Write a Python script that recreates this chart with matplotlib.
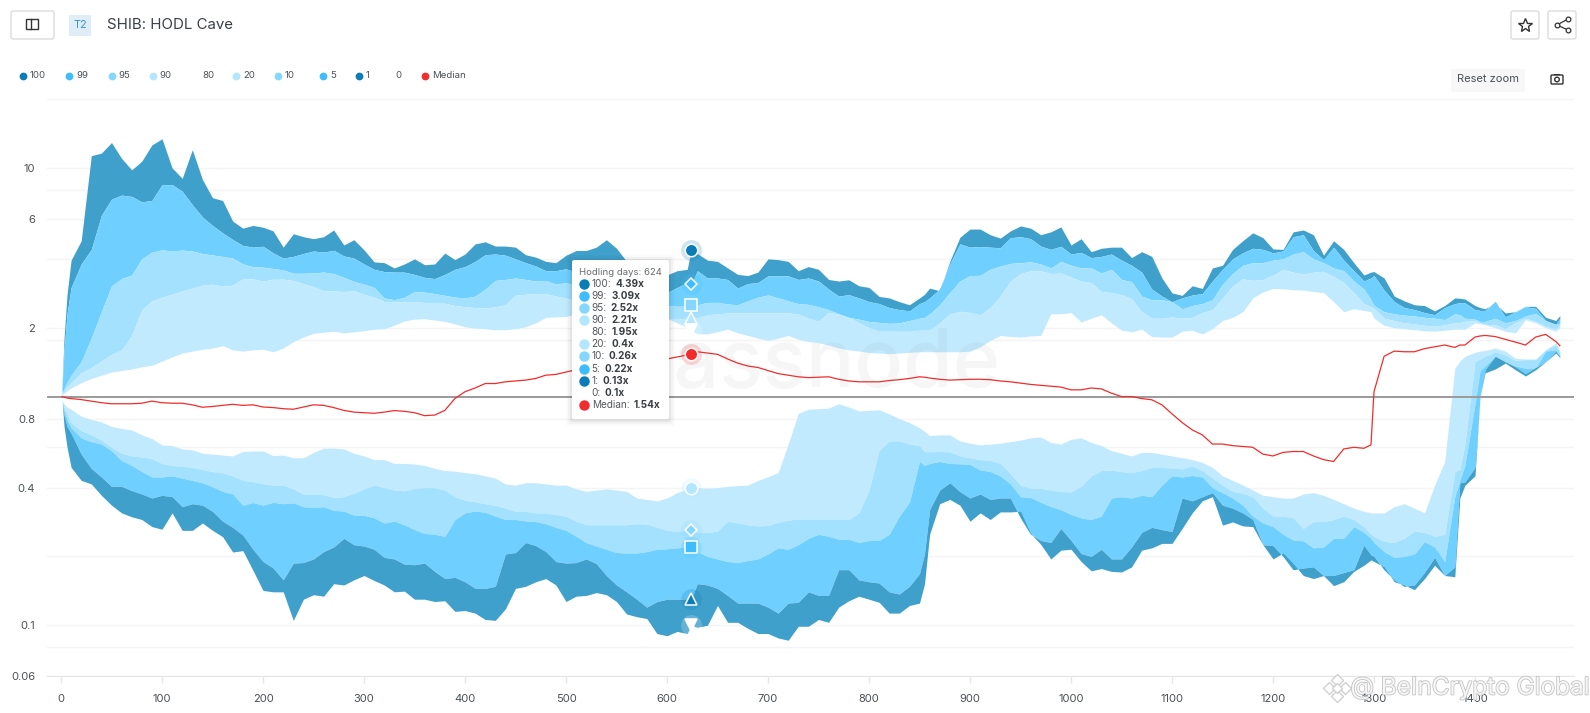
#!/usr/bin/env python3
"""SHIB: HODL Cave, redrawn as a static figure."""
import matplotlib
matplotlib.use("Agg")
import matplotlib.pyplot as plt
import matplotlib.patheffects as pe
from matplotlib.patches import Circle, FancyBboxPatch, Rectangle
from matplotlib.ticker import NullFormatter

plt.rcParams["font.family"] = ["Inter", "DejaVu Sans"]

days = [1, 3, 6, 10, 20, 30, 40, 50, 60, 70, 80, 90,
        100, 110, 120, 130, 140, 150, 160, 170, 180, 190,
        200, 210, 220, 230, 240, 250, 260, 270, 280, 290,
        300, 310, 320, 330, 340, 350, 360, 370, 380, 390,
        400, 410, 420, 430, 440, 450, 460, 470, 480, 490,
        500, 510, 520, 530, 540, 550, 560, 570, 580, 590,
        600, 610, 620, 624, 630, 640, 650, 660, 670, 680, 690,
        700, 710, 720, 730, 740, 750, 760, 770, 780, 790,
        800, 810, 820, 830, 840, 850, 855, 860, 870, 880, 890,
        900, 910, 920, 930, 940, 950, 960, 970, 980, 990,
        1000, 1010, 1020, 1030, 1040, 1050, 1060, 1070, 1080, 1090,
        1100, 1110, 1120, 1130, 1140, 1150, 1160, 1170, 1180, 1190,
        1200, 1210, 1220, 1230, 1240, 1250, 1260, 1270, 1280, 1290, 1297,
        1300, 1310, 1320, 1330, 1340, 1350, 1360, 1370, 1380, 1385, 1390,
        1400, 1405, 1410, 1420, 1430, 1440, 1450, 1460, 1470, 1480, 1484]

p100 = [1.1, 1.8, 2.8, 3.95, 4.8, 11.3, 11.6, 12.9, 11, 9.8, 10.7, 12.6,
        13.4, 10, 9, 12, 8.9, 7.4, 7.2, 5.85, 5.45, 5.6,
        5.5, 5.3, 4.5, 5.15, 5.0, 4.9, 5.0, 5.35, 4.6, 4.85,
        4.38, 3.88, 3.85, 3.65, 3.8, 4.0, 3.77, 3.8, 4.24, 3.97,
        4.2, 4.65, 4.75, 4.55, 4.55, 4.5, 4.17, 4.07, 3.9, 3.85,
        4.15, 4.35, 4.35, 4.5, 4.85, 4.45, 3.9, 3.7, 3.5, 3.4,
        3.4, 3.55, 3.6, 4.39, 4.22, 3.95, 3.9, 3.65, 3.42, 3.38, 3.5,
        4.0, 3.97, 3.9, 3.55, 3.7, 3.6, 3.25, 3.2, 3.24, 3.05,
        3.0, 2.74, 2.7, 2.6, 2.52, 2.7, 2.8, 2.98, 2.9, 3.9, 4.97,
        5.4, 5.4, 5.1, 4.93, 5.3, 5.57, 5.45, 5.1, 5.25, 5.52,
        4.6, 4.9, 4.3, 4.45, 4.5, 4.5, 4.05, 4.3, 4.1, 3.3,
        2.84, 2.77, 3.05, 2.97, 3.65, 3.75, 4.4, 4.8, 5.2, 4.95,
        4.42, 4.4, 5.25, 5.35, 5.1, 4.15, 4.8, 4.4, 3.85, 3.4, 3.5,
        3.52, 3.3, 2.75, 2.62, 2.52, 2.5, 2.37, 2.5, 2.7, 2.69, 2.67,
        2.5, 2.45, 2.42, 2.55, 2.32, 2.35, 2.48, 2.48, 2.22, 2.15, 2.26]

p99 = [1.08, 1.6, 2.3, 3.0, 3.8, 4.4, 6.2, 7.3, 7.6, 7.5, 7.1, 7.2,
       8.45, 8.45, 7.9, 6.9, 6.1, 5.6, 5.2, 4.86, 4.58, 4.5,
       4.54, 4.25, 4.03, 4.1, 4.22, 4.33, 4.28, 4.36, 4.12, 4.03,
       3.8, 3.6, 3.52, 3.5, 3.5, 3.42, 3.32, 3.28, 3.42, 3.6,
       3.7, 3.9, 4.17, 4.2, 4.15, 4.0, 3.85, 3.72, 3.55, 3.55,
       3.62, 3.5, 3.4, 3.3, 3.2, 3.1, 3.05, 3.0, 2.95, 2.9,
       2.85, 3.0, 3.15, 3.09, 3.55, 3.3, 3.3, 3.25, 2.98, 3.12, 3.15,
       3.37, 3.37, 3.37, 3.25, 3.3, 3.2, 2.95, 2.75, 2.79, 2.7,
       2.6, 2.55, 2.45, 2.4, 2.37, 2.55, 2.6, 2.7, 2.95, 3.8, 4.65,
       4.5, 4.53, 4.5, 4.47, 4.95, 5.0, 4.9, 4.55, 4.4, 4.54,
       4.2, 4.27, 4.05, 4.1, 4.2, 3.95, 3.75, 3.5, 2.95, 2.75,
       2.6, 2.7, 2.78, 2.82, 3.2, 3.6, 4.0, 4.25, 4.45, 4.4,
       4.25, 4.33, 5.0, 5.1, 4.35, 3.97, 4.5, 3.95, 3.55, 3.2, 3.3,
       3.38, 2.92, 2.6, 2.45, 2.4, 2.33, 2.28, 2.45, 2.55, 2.57, 2.57,
       2.4, 2.38, 2.38, 2.6, 2.23, 2.35, 2.47, 2.43, 2.15, 2.07, 2.2]

p95 = [1.03, 1.08, 1.15, 1.24, 1.42, 1.8, 2.35, 3.05, 3.28, 3.4, 4.0, 4.28,
       4.38, 4.33, 4.37, 4.33, 4.22, 4.16, 4.1, 4.03, 3.8, 3.7,
       3.68, 3.63, 3.58, 3.46, 3.46, 3.47, 3.5, 3.45, 3.32, 3.19,
       3.1, 3.0, 2.7, 2.65, 2.72, 2.88, 2.86, 2.82, 2.77, 2.72,
       2.7, 2.75, 2.95, 3.22, 3.25, 3.3, 3.25, 3.2, 3.22, 3.1,
       3.15, 3.05, 2.95, 2.88, 2.82, 2.75, 2.7, 2.65, 2.6, 2.55,
       2.5, 2.48, 2.5, 2.52, 2.52, 2.58, 2.58, 2.54, 2.52, 2.62, 2.72,
       2.78, 2.7, 2.62, 2.55, 2.53, 2.47, 2.4, 2.3, 2.22, 2.18,
       2.13, 2.11, 2.09, 2.1, 2.15, 2.2, 2.22, 2.3, 2.52, 2.85, 3.2,
       3.38, 3.39, 3.6, 3.72, 3.82, 3.85, 3.88, 3.8, 3.65, 3.9,
       3.75, 3.65, 3.65, 3.47, 3.6, 3.25, 3.18, 2.75, 2.65, 2.65,
       2.6, 2.42, 2.5, 2.55, 2.65, 3.1, 3.45, 3.75, 3.85, 3.85,
       3.95, 4.0, 4.2, 4.3, 4.0, 3.85, 3.65, 3.55, 3.2, 2.95, 2.65,
       2.5, 2.35, 2.3, 2.27, 2.25, 2.22, 2.2, 2.17, 2.3, 2.28, 2.2,
       2.18, 2.13, 2.13, 2.2, 2.1, 2.15, 2.25, 2.31, 2.15, 2.07, 2.08]

p90 = [1.02, 1.05, 1.1, 1.15, 1.27, 1.34, 1.43, 1.53, 1.6, 1.85, 2.4, 2.62,
       2.72, 2.8, 2.9, 2.98, 3.07, 3.1, 3.04, 3.07, 3.27, 3.27,
       3.2, 3.26, 3.26, 3.22, 3.12, 3.03, 2.9, 2.9, 2.88, 2.9,
       2.8, 2.72, 2.6, 2.6, 2.6, 2.6, 2.58, 2.56, 2.56, 2.5,
       2.47, 2.45, 2.44, 2.47, 2.52, 2.78, 2.8, 2.82, 2.82, 2.75,
       2.7, 2.6, 2.5, 2.45, 2.4, 2.35, 2.3, 2.25, 2.22, 2.2,
       2.18, 2.18, 2.2, 2.21, 2.21, 2.28, 2.3, 2.32, 2.32, 2.32, 2.32,
       2.32, 2.32, 2.32, 2.3, 2.2, 2.14, 2.33, 2.3, 2.22, 2.1,
       2.0, 1.93, 1.93, 1.93, 1.93, 1.95, 1.95, 1.95, 2.1, 2.3, 2.36,
       2.33, 2.28, 2.45, 2.75, 3.2, 3.45, 3.55, 3.55, 3.45, 3.47,
       3.33, 3.2, 3.15, 2.88, 2.85, 2.79, 2.68, 2.35, 2.2, 2.2,
       2.23, 2.2, 2.22, 2.33, 2.4, 2.7, 3.05, 3.27, 3.22, 3.25,
       3.4, 3.6, 3.5, 3.43, 3.5, 3.53, 3.35, 3.15, 2.85, 2.55, 2.47,
       2.43, 2.2, 2.15, 2.1, 2.08, 2.05, 2.03, 2.06, 2.1, 2.11, 2.13,
       2.15, 2.1, 2.07, 2.06, 1.98, 2.1, 2.2, 2.13, 2.03, 1.97, 2.06]

p80 = [1.01, 1.03, 1.06, 1.09, 1.15, 1.2, 1.24, 1.28, 1.3, 1.32, 1.35, 1.37,
       1.43, 1.49, 1.55, 1.58, 1.61, 1.63, 1.67, 1.6, 1.58, 1.6,
       1.61, 1.57, 1.63, 1.74, 1.82, 1.89, 1.91, 1.93, 1.9, 1.92,
       1.94, 1.97, 1.98, 2.05, 2.14, 2.18, 2.19, 2.16, 2.13, 2.08,
       2.02, 1.99, 1.98, 1.96, 1.96, 1.98, 2.02, 2.1, 2.22, 2.23,
       2.24, 2.3, 2.3, 2.3, 2.28, 2.25, 2.2, 2.2, 2.2, 2.2,
       2.2, 2.1, 2.0, 1.95, 1.88, 1.88, 1.92, 1.97, 1.9, 1.85, 1.8,
       1.76, 1.8, 1.85, 1.78, 1.74, 1.72, 1.68, 1.63, 1.6, 1.58,
       1.56, 1.55, 1.54, 1.55, 1.56, 1.57, 1.57, 1.57, 1.57, 1.57, 1.57,
       1.58, 1.65, 1.76, 1.85, 1.83, 1.82, 1.84, 1.85, 2.3, 2.3,
       2.33, 2.12, 2.2, 2.28, 2.1, 1.95, 1.92, 1.97, 1.83, 1.82,
       1.82, 1.93, 1.95, 1.88, 1.98, 2.15, 2.22, 2.35, 2.7, 2.87,
       2.97, 2.96, 2.93, 2.92, 2.88, 2.85, 2.6, 2.35, 2.42, 2.38, 2.35,
       2.2, 2.05, 2.0, 1.98, 1.96, 1.94, 1.93, 1.95, 1.97, 1.97, 1.97,
       2.1, 2.08, 2.06, 2.0, 1.93, 1.9, 2.17, 2.1, 2.0, 1.93, 2.0]

p20 = [.96, .93, .9, .88, .82, .795, .775, .74, .725, .715, .68, .655,
       .614, .61, .59, .585, .565, .56, .555, .55, .575, .578,
       .578, .552, .555, .54, .54, .57, .595, .595, .59, .565,
       .55, .53, .53, .51, .51, .507, .5, .485, .475, .472,
       .465, .46, .45, .44, .415, .41, .42, .42, .415, .41,
       .41, .395, .385, .39, .395, .39, .385, .36, .355, .35,
       .36, .38, .395, .4, .4, .397, .4, .405, .408, .41, .43,
       .446, .465, .62, .845, .88, .885, .89, .93, .9, .865,
       .87, .875, .84, .8, .77, .73, .705, .675, .68, .68, .64,
       .625, .615, .62, .625, .635, .645, .66, .665, .63, .62,
       .65, .66, .63, .61, .58, .565, .55, .57, .57, .56,
       .55, .54, .53, .515, .49, .45, .43, .41, .39, .37,
       .365, .36, .36, .375, .38, .37, .355, .34, .325, .315, .31,
       .31, .31, .33, .34, .325, .31, .41, .52, 1.33, 1.43, 1.5,
       1.56, 1.58, 1.59, 1.63, 1.58, 1.47, 1.46, 1.46, 1.6, 1.72, 1.58]

p10 = [.96, .9, .84, .77, .71, .68, .645, .6, .565, .55, .545, .535,
       .51, .5, .495, .49, .48, .47, .465, .45, .43, .425,
       .415, .41, .41, .395, .375, .374, .372, .362, .365, .378,
       .395, .41, .4, .39, .387, .397, .4, .4, .39, .365,
       .352, .347, .34, .335, .325, .315, .315, .31, .31, .305,
       .3, .285, .275, .275, .275, .275, .275, .278, .277, .268,
       .26, .258, .26, .26, .255, .255, .258, .285, .28, .275, .272,
       .273, .282, .288, .292, .29, .29, .29, .29, .29, .31,
       .39, .58, .64, .64, .62, .61, .574, .574, .575, .574, .55,
       .54, .53, .527, .51, .46, .41, .398, .397, .39, .385,
       .383, .406, .45, .475, .477, .47, .465, .475, .49, .49,
       .487, .483, .497, .475, .44, .41, .385, .378, .365, .325,
       .3, .3, .295, .265, .284, .284, .29, .3, .29, .27, .25,
       .245, .233, .23, .24, .258, .255, .245, .25, .47, .48, .62,
       1.42, 1.46, 1.5, 1.57, 1.52, 1.44, 1.45, 1.45, 1.6, 1.68, 1.56]

p5 = [.96, .87, .79, .73, .66, .635, .62, .58, .525, .5, .47, .445,
      .445, .45, .44, .43, .42, .403, .385, .375, .335, .344,
      .335, .345, .34, .343, .33, .327, .33, .318, .316, .303,
      .303, .295, .28, .285, .275, .262, .252, .25, .245, .29,
      .31, .316, .312, .3, .29, .29, .286, .284, .278, .268,
      .26, .245, .23, .222, .215, .208, .207, .207, .21, .215,
      .216, .218, .22, .22, .21, .2, .195, .19, .188, .192, .195,
      .205, .218, .215, .225, .24, .25, .245, .238, .238, .23,
      .235, .235, .25, .3, .345, .52, .5, .51, .52, .51, .508,
      .505, .478, .47, .45, .415, .365, .362, .345, .33, .32,
      .305, .295, .29, .3, .36, .365, .36, .37, .365, .41,
      .45, .445, .452, .445, .4, .38, .36, .335, .3, .28,
      .27, .25, .236, .234, .218, .22, .24, .24, .27, .255, .24,
      .23, .21, .198, .2, .205, .232, .22, .19, .365, .43, .5,
      .93, 1.3, 1.36, 1.5, 1.42, 1.36, 1.33, 1.33, 1.58, 1.6, 1.51]

p1 = [.96, .83, .74, .69, .56, .485, .445, .405, .405, .388, .375, .36,
      .37, .365, .33, .34, .335, .315, .285, .268, .248, .215,
      .19, .178, .158, .187, .188, .195, .21, .22, .24, .225,
      .222, .215, .198, .195, .185, .184, .187, .172, .16, .162,
      .155, .145, .145, .148, .205, .208, .23, .223, .21, .19,
      .187, .188, .195, .186, .165, .15, .14, .13, .12, .127,
      .13, .13, .13, .13, .152, .15, .145, .135, .125, .125, .125,
      .12, .113, .125, .126, .14, .135, .135, .175, .175, .158,
      .155, .153, .14, .137, .148, .168, .206, .32, .39, .42, .384,
      .36, .375, .355, .36, .36, .295, .25, .235, .23, .265,
      .235, .206, .2, .215, .195, .195, .22, .255, .268, .262,
      .257, .36, .35, .365, .38, .335, .325, .31, .29, .225,
      .223, .2, .175, .178, .18, .165, .165, .17, .175, .224, .203,
      .2, .175, .158, .148, .15, .17, .198, .165, .18, .42, .423,
      .49, 1.0, 1.31, 1.5, 1.42, 1.35, 1.26, 1.34, 1.42, 1.58, 1.5]

p0 = [.97, .74, .6, .49, .43, .415, .37, .335, .31, .298, .29, .27,
      .263, .31, .26, .26, .28, .26, .244, .209, .212, .174,
      .142, .14, .14, .105, .13, .136, .134, .152, .15, .158,
      .165, .157, .15, .14, .141, .13, .13, .127, .128, .115,
      .116, .113, .106, .105, .118, .145, .148, .155, .16, .15,
      .127, .134, .135, .139, .136, .127, .112, .109, .107, .092,
      .09, .094, .092, .1, .098, .1, .122, .103, .103, .097, .092,
      .092, .088, .086, .099, .099, .106, .103, .12, .128, .134,
      .13, .126, .113, .113, .122, .125, .152, .25, .34, .355, .335,
      .285, .31, .29, .313, .313, .315, .252, .226, .195, .213,
      .215, .19, .173, .177, .172, .171, .18, .213, .218, .228,
      .228, .265, .31, .35, .365, .274, .283, .272, .27, .225,
      .195, .207, .186, .165, .16, .165, .149, .155, .172, .183, .193,
      .19, .18, .155, .15, .143, .16, .183, .165, .163, .36, .41,
      .45, 1.0, 1.27, 1.32, 1.4, 1.31, 1.23, 1.31, 1.42, 1.55, 1.48]

median = [1, .995, .985, .98, .97, .955, .94, .93, .93, .93, .935, .955,
          .94, .935, .935, .92, .898, .905, .915, .925, .915, .92,
          .9, .895, .885, .88, .9, .92, .915, .895, .87, .855,
          .85, .845, .855, .868, .862, .85, .825, .83, .87, .98,
          1.05, 1.09, 1.14, 1.14, 1.16, 1.17, 1.18, 1.2, 1.24, 1.25,
          1.28, 1.31, 1.33, 1.35, 1.37, 1.39, 1.41, 1.43, 1.44, 1.45,
          1.46, 1.49, 1.52, 1.54, 1.57, 1.55, 1.53, 1.46, 1.4, 1.36, 1.34,
          1.3, 1.26, 1.24, 1.22, 1.21, 1.215, 1.22, 1.19, 1.17, 1.16,
          1.16, 1.16, 1.175, 1.185, 1.2, 1.22, 1.215, 1.205, 1.19, 1.18, 1.185,
          1.19, 1.19, 1.185, 1.17, 1.16, 1.145, 1.13, 1.12, 1.11, 1.1,
          1.07, 1.07, 1.09, 1.08, 1.035, 1.0, 1.0, .98, .968, .92,
          .84, .77, .715, .68, .62, .62, .61, .605, .6, .56,
          .55, .57, .575, .575, .55, .53, .52, .59, .6, .594, .615,
          1.05, 1.5, 1.58, 1.57, 1.57, 1.62, 1.65, 1.68, 1.64, 1.68, 1.68,
          1.82, 1.84, 1.85, 1.83, 1.78, 1.73, 1.68, 1.82, 1.87, 1.74, 1.67]

x_ticks = [0, 100, 200, 300, 400, 500, 600, 700, 800, 900, 1000, 1100, 1200, 1300, 1400]
y_ticks = [0.06, 0.1, 0.4, 0.8, 2, 6, 10]
y_tick_labels = ["0.06", "0.1", "0.4", "0.8", "2", "6", "10"]
y_grid_only = [0.08, 0.2, 0.6, 1.77, 4, 8, 20]

legend_names = ["100", "99", "95", "90", "80", "20", "10", "5", "1", "0", "Median"]
tooltip_values = ["4.39x", "3.09x", "2.52x", "2.21x", "1.95x", "0.4x", "0.26x",
                  "0.22x", "0.13x", "0.1x", "1.54x"]
hover_day = 624
hover_values = [4.39, 3.09, 2.52, 2.21, 1.95, 0.4, 0.26, 0.22, 0.13, 0.1, 1.54]

C_DARK, C_BLUE, C_MID, C_PALE = "#40a0cc", "#6fd0ff", "#a3e1ff", "#c1eaff"
C_100, C_99, C_95, C_90 = "#0a7db8", "#3dbdfd", "#85d7ff", "#b3e6ff"
C_RED = "#f22c2c"
C_TEXT = "#4a5056"

fig = plt.figure(figsize=(15.9, 7.13), dpi=100)
L, R, T, B = 47, 1574, 99, 676
ax = fig.add_axes([L / 1590, (713 - B) / 713, (R - L) / 1590, (B - T) / 713])

# bands, outermost to innermost
for lo, hi, col in [(p99, p100, C_DARK), (p95, p99, C_BLUE), (p90, p95, C_MID), (p80, p90, C_PALE),
                    (p10, p20, C_PALE), (p5, p10, C_MID), (p1, p5, C_BLUE), (p0, p1, C_DARK)]:
    ax.fill_between(days, lo, hi, color=col, lw=0, zorder=2)
ax.axhline(1, color="#9a9a9a", lw=1.4, zorder=3)
ax.plot(days, median, color=C_RED, lw=0.9, zorder=4)

ax.set_yscale("log")
ax.set_xlim((L - 61) / 1.01, (R - 61) / 1.01)
ax.set_ylim(0.06, 20)
ax.set_xticks(x_ticks)
ax.set_yticks(y_ticks, labels=y_tick_labels)
ax.set_yticks(y_grid_only, minor=True)
ax.yaxis.set_minor_formatter(NullFormatter())
ax.grid(axis="y", which="both", color="#f4f4f4", lw=1, zorder=1)
ax.tick_params(axis="y", which="both", length=0, pad=8.6, labelsize=8, labelcolor=C_TEXT)
ax.tick_params(axis="x", length=5, color="#e6e6e6", width=1, pad=8, labelsize=8, labelcolor=C_TEXT)
for side in ["top", "left", "right"]:
    ax.spines[side].set_visible(False)
ax.spines["bottom"].set_color("#e6e6e6")

# hover markers at day 624
markers = ["o", "D", "s", "^", "v", "o", "D", "s", "^", "v", "o"]
marker_cols = [C_100, C_99, C_95, C_90, "white", C_90, C_95, C_99, C_100, "white", C_RED]
marker_size = [9, 6.5, 9, 9, 9, 9, 6.5, 9, 9, 9, 9]
for v, m, col, ms in zip(hover_values, markers, marker_cols, marker_size):
    ax.plot(hover_day, v, "o", ms=15, color=col, alpha=0.2, mew=0, zorder=5)
    ax.plot(hover_day, v, m, ms=ms, mfc=col, mec="white", mew=1.1, zorder=6)

# transform=None means figure pixels, measured from the bottom
ax.text(1000, 713 - 387, "glassnode", transform=None, ha="right", va="baseline", fontsize=58,
        color="#808080", alpha=0.07, fontweight="medium", zorder=7)

# page furniture is laid out in pixel coordinates on an overlay
ov = fig.add_axes([0, 0, 1, 1], xlim=(0, 1590), ylim=(713, 0), zorder=5)
ov.axis("off")
ov.patch.set_alpha(0)
renderer = fig.canvas.get_renderer()


def button(x0, y0, x1, y1):
    ov.add_patch(FancyBboxPatch((x0 + 1, y0 + 1), x1 - x0 - 2, y1 - y0 - 2, boxstyle="round,pad=0,rounding_size=2",
                                fc="white", ec="#dcdcdc", lw=1))


button(10, 10, 55, 40)
ov.add_patch(Rectangle((26, 19), 12, 10, fc="none", ec="#333333", lw=1))
ov.plot([30.5, 30.5], [19, 29], color="#333333", lw=1)
ov.add_patch(Rectangle((69, 15), 22, 21, fc="#deedf8", ec="none"))
ov.text(80, 25.5, "T2", ha="center", va="center", fontsize=7.8, color="#3d94c9")
ov.text(107, 25, "SHIB: HODL Cave", ha="left", va="center", fontsize=10.8, color="#3a4047")

button(1510, 10, 1540, 40)
ov.plot(1525, 24.5, "*", ms=10.5, mfc="white", mec="#333333", mew=1)
button(1547, 10, 1577, 40)
for px, py in [(1568, 19), (1557, 25), (1568, 30)]:
    ov.plot([1557, px], [25, py], color="#333333", lw=0.9)
for px, py in [(1568, 19), (1557, 25), (1568, 30)]:
    ov.plot(px, py, "o", ms=3.4, mfc="white", mec="#333333", mew=0.9)

# legend row
legend_dots = [C_100, C_99, C_95, C_90, None, C_90, C_95, C_99, C_100, None, C_RED]
dot_x = [23, 69, 112, 153, None, 236, 278, 323, 359, None, 425]
text_x = [30, 76, 118, 159, 202, 243, 285, 330, 366, 395, 432]
for name, col, dx, tx in zip(legend_names, legend_dots, dot_x, text_x):
    if col:
        ov.plot(dx, 75.5, "o", ms=5.6, color=col, mew=0)
    ov.text(tx, 75.5, name, ha="left", va="center", fontsize=6.9, color=C_TEXT)

ov.add_patch(FancyBboxPatch((1451, 69), 74, 23, boxstyle="round,pad=0,rounding_size=2", fc="#f7f7f7", ec="none"))
ov.text(1488, 79.5, "Reset zoom", ha="center", va="center", fontsize=8, color=C_TEXT)
ov.add_patch(FancyBboxPatch((1551, 75), 12, 9, boxstyle="round,pad=0,rounding_size=1", fc="none", ec="#333333", lw=1))
ov.add_patch(Rectangle((1554, 73.5), 6, 1.5, fc="#333333", ec="none"))
ov.add_patch(Circle((1557, 79.5), 2.3, fc="none", ec="#333333", lw=1))

# tooltip
for grow, a in [(6, 0.02), (4, 0.03), (2, 0.05)]:
    ov.add_patch(FancyBboxPatch((572 - grow, 260 - grow + 1), 97 + 2 * grow, 159 + 2 * grow,
                                boxstyle="round,pad=0,rounding_size=3", fc="black", ec="none", alpha=a))
ov.add_patch(FancyBboxPatch((572, 260), 97, 159, boxstyle="round,pad=0,rounding_size=2", fc="white", ec="none"))
ov.text(579, 272.7, "Hodling days: 624", ha="left", va="center", fontsize=6.9, color="#666b70")
row_y = [284, 296, 308, 320, 332, 344, 356, 368.5, 381, 393, 405]
tip_dots = [C_100, C_99, C_95, C_90, None, C_90, C_95, C_99, C_100, None, C_RED]
for y, name, val, col in zip(row_y, legend_names, tooltip_values, tip_dots):
    if col:
        ov.plot(584, y, "o", ms=7.5, color=col, mew=0)
    t = ov.text(591.7, y, name + ":", ha="left", va="center", fontsize=7.2, color="#55595e")
    ov.text(t.get_window_extent(renderer).x1 + 4, y, val, ha="left", va="center", fontsize=7.2,
            color="#3a3f44", fontweight="bold")

# outlet watermark, bottom right
for dx, dy, s in [(1337, 680, 6), (1329, 688, 6), (1345, 688, 6), (1337, 696, 6), (1337, 688, 5)]:
    ov.plot(dx, dy, "D", ms=s, mfc="white", mec="#d0d0d0", mew=1)
ov.text(1590, 688, "@ BeInCrypto Global", ha="right", va="center", fontsize=17.5, color="#f6f6f6",
        path_effects=[pe.withStroke(linewidth=1.2, foreground="#c4c4c4")])

fig.savefig("out.png", dpi=100)
